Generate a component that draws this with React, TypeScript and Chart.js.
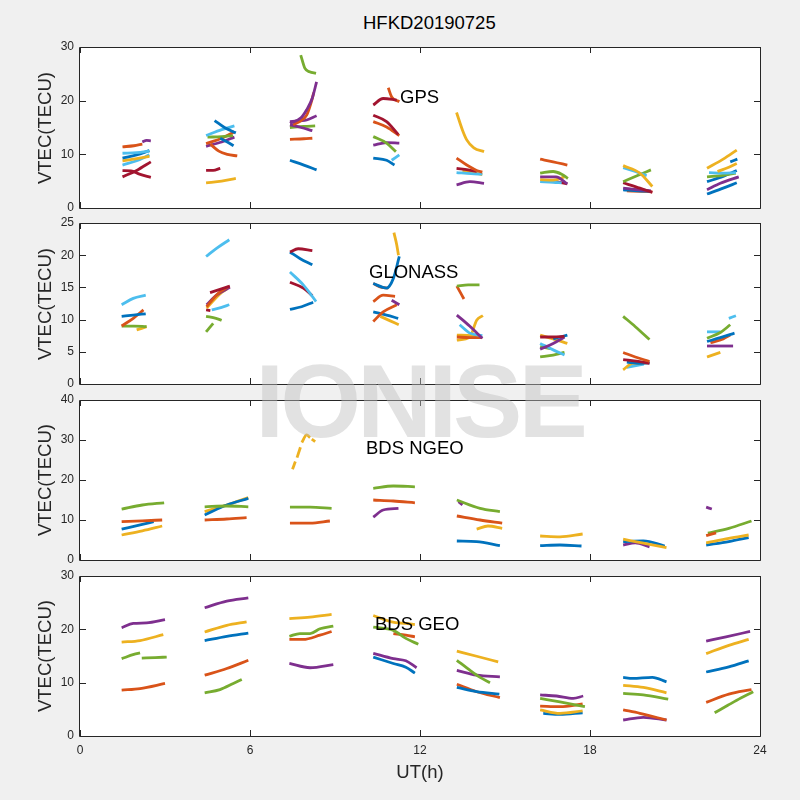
import React, { useEffect, useRef } from 'react';
import { Chart, registerables } from 'chart.js';

Chart.register(...registerables);

// MATLAB default colour order (series identity index -> colour)
const PALETTE = ['#0072BD', '#D95319', '#EDB120', '#7E2F8E', '#77AC30', '#4DBEEE', '#A2142F'];

// x axis (UT hours)
const xTicks = [0, 6, 12, 18, 24];

// Each track: [satellite colour index, [[UT h, VTEC], ...]]
type Track = [number, number[][]];

const gpsTracks: Track[] = [
  [1, [[1.5, 11.4], [1.9, 11.6], [2.2, 11.9]]],
  [3, [[2.2, 12.3], [2.35, 12.6], [2.5, 12.5]]],
  [5, [[1.5, 10.2], [2.0, 10.3], [2.45, 10.6]]],
  [0, [[1.5, 9.3], [2.0, 9.9], [2.45, 10.7]]],
  [2, [[1.5, 8.8], [2.0, 9.2], [2.45, 9.6]]],
  [5, [[1.5, 8.0], [2.0, 8.8], [2.45, 9.9]]],
  [6, [[1.5, 5.8], [2.0, 7.0], [2.5, 8.6]]],
  [6, [[1.5, 6.95], [1.8, 6.9], [2.1, 6.3], [2.5, 5.7]]],

  [0, [[4.75, 16.3], [5.1, 15.0], [5.5, 14.0]]],
  [0, [[4.95, 13.0], [5.2, 12.3], [5.42, 11.6]]],
  [5, [[4.45, 13.5], [5.0, 14.6], [5.45, 15.3]]],
  [4, [[4.5, 13.2], [5.0, 13.3], [5.4, 13.5]]],
  [1, [[4.45, 12.0], [5.0, 13.0], [5.45, 14.2]]],
  [1, [[4.6, 11.9], [4.9, 10.6], [5.2, 10.0], [5.55, 9.7]]],
  [3, [[4.45, 11.5], [5.0, 12.3], [5.45, 13.2]]],
  [6, [[4.45, 7.0], [4.7, 7.0], [4.95, 7.4]]],
  [2, [[4.45, 4.7], [5.0, 5.0], [5.5, 5.5]]],

  [4, [[7.79, 28.5], [7.94, 26.0], [8.1, 25.4], [8.33, 25.1]]],
  [3, [[7.41, 15.8], [7.8, 16.8], [8.0, 18.3], [8.2, 20.5], [8.35, 23.5]]],
  [1, [[7.52, 15.5], [7.8, 16.3], [8.0, 17.3], [8.15, 19.5], [8.25, 21.5]]],
  [3, [[7.41, 16.1], [8.0, 16.4], [8.35, 17.2]]],
  [3, [[7.41, 15.5], [7.8, 15.0], [8.2, 14.4]]],
  [4, [[7.41, 15.0], [7.9, 15.2], [8.3, 15.3]]],
  [1, [[7.41, 12.8], [7.9, 12.9], [8.2, 13.0]]],
  [0, [[7.41, 8.9], [7.9, 8.0], [8.35, 7.1]]],

  [6, [[10.35, 19.2], [10.7, 20.4], [11.18, 20.1]]],
  [1, [[10.88, 22.4], [11.0, 20.7], [11.27, 19.8]]],
  [6, [[10.35, 17.3], [10.82, 16.1], [11.23, 13.7]]],
  [1, [[10.35, 16.1], [10.82, 15.1], [11.27, 13.5]]],
  [4, [[10.35, 13.3], [10.82, 12.1], [11.15, 10.5]]],
  [3, [[10.35, 11.7], [10.82, 12.2], [11.27, 12.1]]],
  [5, [[11.0, 8.9], [11.27, 9.9]]],
  [0, [[10.35, 9.3], [10.82, 8.9], [11.1, 8.0]]],

  [2, [[13.29, 17.8], [13.5, 14.5], [13.65, 12.7], [13.9, 11.2], [14.26, 10.5]]],
  [1, [[13.29, 9.3], [13.65, 8.0], [14.0, 7.0], [14.2, 6.7]]],
  [6, [[13.29, 7.4], [13.7, 7.1], [14.0, 6.8]]],
  [5, [[13.29, 6.6], [13.8, 6.4], [14.2, 6.3]]],
  [2, [[13.5, 7.0], [13.9, 6.6], [14.2, 6.2]]],
  [3, [[13.29, 4.3], [13.76, 4.9], [14.26, 4.6]]],

  [1, [[16.24, 9.1], [16.7, 8.6], [17.2, 8.0]]],
  [4, [[16.24, 6.5], [16.7, 6.8], [17.0, 6.3], [17.22, 5.5]]],
  [3, [[16.24, 5.8], [16.8, 5.8], [17.2, 4.5]]],
  [2, [[16.24, 5.3], [16.7, 5.2], [17.1, 5.8]]],
  [5, [[16.24, 4.9], [16.7, 4.8], [17.0, 4.7]]],
  [6, [[16.7, 5.0], [17.2, 4.5]]],

  [2, [[19.17, 7.9], [19.76, 6.5], [20.2, 4.0]]],
  [5, [[19.17, 7.5], [19.6, 6.8], [20.0, 6.0]]],
  [4, [[19.17, 4.9], [19.7, 6.1], [20.15, 7.1]]],
  [6, [[19.17, 4.7], [19.76, 3.7], [20.2, 2.9]]],
  [3, [[19.17, 3.7], [19.7, 3.4], [20.15, 3.2]]],
  [0, [[19.17, 3.4], [19.7, 3.2], [20.15, 3.1]]],
  [1, [[19.3, 3.2], [19.8, 3.1], [20.2, 3.0]]],

  [2, [[22.13, 7.4], [22.7, 9.1], [23.18, 10.8]]],
  [2, [[22.5, 6.8], [22.9, 7.6], [23.18, 8.3]]],
  [0, [[22.95, 8.6], [23.2, 9.1]]],
  [5, [[22.2, 6.6], [22.7, 6.5], [23.15, 6.6]]],
  [4, [[22.13, 5.8], [22.7, 6.1], [23.15, 6.5]]],
  [0, [[22.13, 4.9], [22.7, 5.9], [23.18, 7.0]]],
  [3, [[22.13, 3.4], [22.6, 4.6], [23.25, 5.8]]],
  [0, [[22.13, 2.6], [22.7, 3.7], [23.18, 4.7]]],
];

const glonassTracks: Track[] = [
  [5, [[1.47, 12.3], [1.88, 13.3], [2.32, 13.8]]],
  [0, [[1.47, 10.5], [1.88, 10.7], [2.32, 10.9]]],
  [1, [[1.47, 9.0], [1.88, 10.2], [2.24, 11.5]]],
  [4, [[1.47, 9.0], [1.9, 9.0], [2.35, 8.9]]],
  [2, [[2.0, 8.4], [2.35, 8.9]]],

  [5, [[4.45, 19.8], [4.83, 21.1], [5.27, 22.4]]],
  [6, [[4.59, 14.2], [4.94, 14.7], [5.29, 15.2]]],
  [1, [[4.47, 12.0], [4.88, 14.1], [5.23, 15.1]]],
  [3, [[4.47, 12.3], [4.82, 13.8], [5.29, 15.0]]],
  [2, [[4.47, 11.8], [4.94, 14.0], [5.2, 14.8]]],
  [6, [[4.45, 11.5], [4.6, 11.4]]],
  [5, [[4.65, 11.5], [5.0, 11.9], [5.27, 12.3]]],
  [4, [[4.45, 10.5], [4.8, 10.2], [5.0, 9.9]]],
  [4, [[4.45, 8.1], [4.7, 9.4]]],

  [6, [[7.41, 20.5], [7.7, 21.0], [8.2, 20.7]]],
  [0, [[7.41, 20.5], [7.76, 19.5], [8.2, 18.5]]],
  [5, [[7.41, 17.4], [7.88, 15.4], [8.1, 14.2], [8.33, 12.8]]],
  [6, [[7.41, 15.8], [7.88, 14.9], [8.2, 13.7]]],
  [0, [[7.41, 11.6], [7.82, 12.0], [8.23, 12.7]]],

  [2, [[11.08, 23.5], [11.18, 21.6], [11.24, 20.0]]],
  [0, [[10.35, 15.6], [10.82, 14.9], [11.06, 16.4], [11.27, 19.8]]],
  [1, [[10.35, 15.6], [10.65, 15.0], [10.88, 14.9]]],
  [1, [[10.35, 12.8], [10.7, 13.8], [11.12, 13.6]]],
  [3, [[11.0, 13.0], [11.27, 12.3]]],
  [1, [[10.35, 9.7], [10.7, 11.2], [11.18, 12.3]]],
  [0, [[10.35, 11.2], [10.82, 10.7], [11.23, 10.2]]],
  [2, [[10.6, 10.5], [10.95, 9.8], [11.25, 9.2]]],

  [4, [[13.3, 15.2], [13.7, 15.4], [14.1, 15.4]]],
  [1, [[13.3, 15.2], [13.55, 13.2]]],
  [3, [[13.3, 10.7], [13.75, 9.0], [14.2, 7.1]]],
  [5, [[13.4, 9.2], [13.76, 7.9], [14.2, 7.5]]],
  [1, [[13.3, 7.3], [13.76, 7.2], [14.2, 7.2]]],
  [2, [[13.3, 7.6], [13.8, 7.5], [14.1, 7.3]]],
  [2, [[13.3, 6.8], [13.76, 7.3], [14.0, 9.9], [14.22, 10.6]]],

  [6, [[16.24, 7.3], [16.7, 7.3], [17.1, 7.4]]],
  [0, [[16.7, 7.0], [17.2, 7.6]]],
  [3, [[16.24, 5.4], [16.7, 6.3], [17.1, 7.3]]],
  [2, [[16.24, 7.6], [16.7, 7.0], [17.2, 6.3]]],
  [5, [[16.24, 6.3], [16.7, 5.3], [17.1, 4.5]]],
  [4, [[16.24, 4.2], [16.7, 4.5], [17.1, 4.9]]],
  [4, [[16.24, 5.8], [16.6, 5.5]]],

  [4, [[19.17, 10.5], [19.6, 8.9], [20.1, 6.9]]],
  [1, [[19.17, 4.9], [19.6, 4.2], [20.1, 3.5]]],
  [6, [[19.17, 3.8], [19.7, 3.5], [20.1, 3.2]]],
  [0, [[19.3, 3.4], [19.7, 3.2], [20.1, 3.3]]],
  [2, [[19.17, 2.2], [19.5, 3.2], [20.0, 3.3]]],
  [5, [[19.3, 2.6], [19.9, 3.1]]],

  [5, [[22.9, 10.2], [23.15, 10.6]]],
  [4, [[22.13, 7.1], [22.6, 8.0], [22.95, 9.2]]],
  [5, [[22.13, 8.1], [22.6, 8.1]]],
  [0, [[22.13, 6.6], [22.6, 7.2], [23.1, 7.9]]],
  [1, [[22.25, 6.4], [22.7, 7.0], [22.95, 7.6]]],
  [3, [[22.13, 5.9], [22.6, 5.9], [23.05, 5.9]]],
  [2, [[22.13, 4.2], [22.6, 4.9]]],
];

const ngeoTracks: Track[] = [
  [4, [[1.47, 12.7], [2.2, 13.75], [2.97, 14.3]]],
  [1, [[1.47, 9.6], [2.2, 9.8], [2.9, 10.0]]],
  [0, [[1.47, 7.7], [2.2, 8.9], [2.6, 9.6]]],
  [2, [[1.47, 6.25], [2.2, 7.3], [2.9, 8.5]]],

  [4, [[4.4, 13.3], [5.18, 13.5], [5.94, 13.3]]],
  [0, [[4.4, 11.25], [5.18, 13.75], [5.94, 15.4]]],
  [2, [[4.4, 12.1], [5.18, 13.75], [5.94, 15.6]]],
  [1, [[4.4, 10.0], [5.18, 10.25], [5.88, 10.6]]],

  [4, [[7.41, 13.2], [8.12, 13.2], [8.88, 12.9]]],
  [1, [[7.41, 9.2], [8.12, 9.2], [8.82, 9.75]]],
  [2, [[7.5, 22.7], [7.6, 24.6]]],
  [2, [[7.66, 25.6], [7.78, 28.2]]],
  [2, [[7.83, 29.4], [8.0, 31.3], [8.12, 30.6]]],
  [2, [[8.18, 30.2], [8.3, 29.6]]],

  [4, [[10.35, 17.9], [11.06, 18.5], [11.82, 18.3]]],
  [1, [[10.35, 15.0], [11.06, 14.75], [11.82, 14.3]]],
  [3, [[10.35, 10.7], [10.7, 12.5], [11.24, 12.9]]],

  [4, [[13.3, 15.0], [14.12, 12.9], [14.82, 12.1]]],
  [3, [[13.36, 14.6], [13.5, 13.8]]],
  [1, [[13.3, 11.0], [14.12, 10.0], [14.9, 9.2]]],
  [2, [[14.0, 7.7], [14.4, 8.5], [14.9, 7.9]]],
  [0, [[13.3, 4.75], [14.0, 4.6], [14.82, 3.6]]],

  [2, [[16.24, 6.0], [16.94, 5.8], [17.74, 6.5]]],
  [0, [[16.24, 3.6], [16.94, 3.75], [17.7, 3.5]]],

  [2, [[19.17, 5.2], [19.88, 4.2], [20.7, 3.1]]],
  [0, [[19.17, 4.6], [19.88, 4.8], [20.64, 3.5]]],
  [3, [[19.17, 3.75], [19.6, 4.3], [20.1, 3.3]]],

  [3, [[22.1, 13.2], [22.3, 12.75]]],
  [1, [[22.1, 6.1], [22.45, 6.8]]],
  [4, [[22.16, 6.7], [22.9, 7.9], [23.7, 9.75]]],
  [2, [[22.1, 4.3], [22.9, 5.4], [23.6, 6.25]]],
  [0, [[22.1, 3.75], [22.9, 4.6], [23.6, 5.6]]],
];

const geoTracks: Track[] = [
  [3, [[1.47, 20.3], [1.88, 21.1], [2.35, 21.2], [3.0, 21.8]]],
  [2, [[1.47, 17.6], [2.12, 17.9], [2.94, 19.0]]],
  [4, [[1.47, 14.5], [1.9, 15.3], [2.12, 15.6]]],
  [4, [[2.18, 14.6], [2.65, 14.7], [3.06, 14.8]]],
  [1, [[1.47, 8.6], [2.12, 8.9], [3.0, 9.85]]],

  [3, [[4.4, 24.05], [5.18, 25.3], [5.94, 25.9]]],
  [2, [[4.4, 19.5], [5.18, 20.75], [5.88, 21.4]]],
  [0, [[4.4, 17.9], [5.18, 18.7], [5.94, 19.3]]],
  [1, [[4.4, 11.4], [5.18, 12.65], [5.94, 14.2]]],
  [4, [[4.4, 8.1], [4.94, 8.7], [5.41, 9.85], [5.71, 10.6]]],

  [2, [[7.39, 22.0], [8.12, 22.3], [8.88, 22.8]]],
  [4, [[7.39, 18.7], [7.76, 19.2], [8.12, 19.2], [8.47, 20.1], [8.94, 20.6]]],
  [1, [[7.39, 18.1], [7.88, 18.1], [8.47, 18.9], [8.88, 19.6]]],
  [3, [[7.39, 13.6], [8.12, 12.8], [8.94, 13.4]]],

  [2, [[10.35, 22.6], [11.0, 21.4], [11.5, 21.1], [11.82, 20.9]]],
  [4, [[10.35, 20.4], [11.06, 19.8], [11.5, 18.3], [11.94, 17.2]]],
  [1, [[11.06, 19.2], [11.5, 18.9], [11.82, 18.6]]],
  [3, [[10.35, 15.5], [11.06, 14.5], [11.5, 14.1], [11.88, 12.8]]],
  [0, [[10.35, 14.8], [11.06, 13.6], [11.5, 12.9], [11.82, 11.8]]],

  [2, [[13.3, 15.9], [14.0, 14.95], [14.76, 13.9]]],
  [4, [[13.3, 14.2], [13.77, 12.3], [14.12, 11.0], [14.47, 10.0]]],
  [3, [[13.3, 12.3], [14.0, 11.4], [14.82, 11.1]]],
  [0, [[13.3, 9.1], [14.0, 8.3], [14.8, 7.85]]],
  [1, [[13.3, 9.7], [14.0, 8.3], [14.82, 7.2]]],

  [3, [[16.24, 7.7], [16.82, 7.5], [17.41, 7.05], [17.76, 7.5]]],
  [4, [[16.24, 7.05], [16.94, 6.4], [17.82, 5.5]]],
  [1, [[16.24, 5.6], [16.94, 5.5], [17.74, 6.0]]],
  [2, [[16.24, 4.9], [16.94, 4.25], [17.74, 4.7]]],
  [0, [[16.35, 4.25], [16.94, 4.05], [17.74, 4.35]]],

  [0, [[19.17, 11.0], [19.5, 10.8], [20.2, 11.0], [20.7, 10.15]]],
  [2, [[19.17, 9.5], [19.88, 9.1], [20.7, 8.1]]],
  [4, [[19.17, 8.0], [19.88, 7.7], [20.76, 6.9]]],
  [1, [[19.17, 4.9], [19.76, 4.25], [20.7, 3.0]]],
  [3, [[19.17, 3.0], [19.88, 3.5], [20.7, 3.0]]],

  [3, [[22.1, 17.8], [22.8, 18.6], [23.65, 19.6]]],
  [2, [[22.1, 15.45], [22.9, 17.0], [23.6, 18.1]]],
  [0, [[22.1, 12.0], [22.9, 12.95], [23.6, 14.1]]],
  [1, [[22.1, 6.3], [22.9, 7.85], [23.7, 8.7]]],
  [4, [[22.4, 4.35], [22.88, 5.8], [23.18, 6.7], [23.76, 8.3]]],
];

// y-axis ranges [max, step] per panel
const gpsY = [30, 10];
const glonassY = [25, 5];
const ngeoY = [40, 10];
const geoY = [30, 10];

const FONT = "'Liberation Sans', Arial, Helvetica, sans-serif";
const AXIS_COLOR = '#262626';

const framePlugin = {
  id: 'frame',
  beforeDraw(chart: any) {
    const { ctx, chartArea: a } = chart;
    ctx.save();
    ctx.fillStyle = '#ffffff';
    ctx.fillRect(a.left, a.top, a.right - a.left, a.bottom - a.top);
    ctx.restore();
  },
  afterDraw(chart: any) {
    const { ctx, chartArea: a, scales } = chart;
    ctx.save();
    ctx.strokeStyle = AXIS_COLOR;
    ctx.lineWidth = 1;
    ctx.beginPath();
    ctx.rect(a.left - 0.5, a.top + 0.5, a.right - a.left + 1, a.bottom - a.top);
    const tl = 6;
    for (const v of xTicks) {
      const px = Math.round(scales.x.getPixelForValue(v)) + 0.5;
      ctx.moveTo(px, a.top);
      ctx.lineTo(px, a.top + tl);
      ctx.moveTo(px, a.bottom + 0.5);
      ctx.lineTo(px, a.bottom - tl);
    }
    for (const t of scales.y.ticks) {
      const py = Math.round(scales.y.getPixelForValue(t.value)) + 0.5;
      ctx.moveTo(a.left, py);
      ctx.lineTo(a.left + tl, py);
      ctx.moveTo(a.right, py);
      ctx.lineTo(a.right - tl, py);
    }
    ctx.stroke();
    ctx.restore();
  },
};

function Panel({ tracks, yRange, top, bottom, showX }: { tracks: Track[]; yRange: number[]; top: number; bottom: number; showX: boolean }) {
  const ref = useRef<HTMLCanvasElement>(null);
  const padT = 10;
  const padB = 10;
  const xH = showX ? 30 : 0;
  const h = bottom - top + padT + padB + xH;
  useEffect(() => {
    const chart = new Chart(ref.current as HTMLCanvasElement, {
      type: 'line',
      data: {
        datasets: tracks.map(([c, pts]) => ({
          data: pts.map(([x, y]) => ({ x, y })),
          borderColor: PALETTE[c],
          backgroundColor: PALETTE[c],
          borderWidth: 2.8,
          pointRadius: 0,
          fill: false,
          cubicInterpolationMode: 'monotone' as const,
          borderJoinStyle: 'round' as const,
        })),
      },
      options: {
        animation: false,
        responsive: false,
        maintainAspectRatio: false,
        layout: { padding: { top: padT, bottom: padB, left: 0, right: 40 } },
        plugins: { legend: { display: false }, tooltip: { enabled: false }, title: { display: false } },
        scales: {
          x: {
            type: 'linear',
            min: 0,
            max: 24,
            display: showX,
            ticks: { stepSize: 6, color: AXIS_COLOR, font: { family: FONT, size: 12 }, padding: 7, maxRotation: 0 },
            grid: { display: false, drawTicks: false },
            border: { display: false },
            afterFit: (s: any) => {
              s.height = xH;
              s.paddingLeft = 0;
              s.paddingRight = 0;
              s.paddingTop = 0;
              s.paddingBottom = 0;
            },
          },
          y: {
            type: 'linear',
            min: 0,
            max: yRange[0],
            ticks: { stepSize: yRange[1], color: AXIS_COLOR, font: { family: FONT, size: 12 }, padding: 6 },
            grid: { display: false, drawTicks: false },
            border: { display: false },
            afterFit: (s: any) => {
              s.width = 80;
              s.paddingTop = 0;
              s.paddingBottom = 0;
              s.paddingLeft = 0;
              s.paddingRight = 0;
            },
          },
        },
      },
      plugins: [framePlugin],
    } as any);
    return () => chart.destroy();
  }, []);
  return (
    <canvas
      ref={ref}
      width={800}
      height={h}
      style={{ position: 'absolute', left: 0, top: top - padT, width: 800, height: h }}
    />
  );
}

const textBase: React.CSSProperties = {
  position: 'absolute',
  fontFamily: FONT,
  color: '#000',
  whiteSpace: 'nowrap',
  lineHeight: 1,
};

function YLabel({ cy }: { cy: number }) {
  return (
    <div style={{ ...textBase, fontSize: 18.5, color: AXIS_COLOR, left: 45, top: cy, transform: 'translate(-50%, -50%) rotate(-90deg)' }}>
      VTEC(TECU)
    </div>
  );
}

function PanelLabel({ text, left, cy }: { text: string; left: number; cy: number }) {
  return <div style={{ ...textBase, fontSize: 18.5, left, top: cy - 9 }}>{text}</div>;
}

export default function App() {
  return (
    <div style={{ position: 'fixed', left: 0, top: 0, width: 800, height: 800, background: '#f0f0f0', overflow: 'hidden' }}>
      <Panel tracks={gpsTracks} yRange={gpsY} top={47} bottom={208} showX={false} />
      <Panel tracks={glonassTracks} yRange={glonassY} top={223} bottom={384} showX={false} />
      <Panel tracks={ngeoTracks} yRange={ngeoY} top={400} bottom={560} showX={false} />
      <Panel tracks={geoTracks} yRange={geoY} top={576} bottom={736} showX={true} />

      <div style={{ ...textBase, fontSize: 18.5, left: 363, top: 14 }}>HFKD20190725</div>
      <YLabel cy={127.5} />
      <YLabel cy={303.5} />
      <YLabel cy={480} />
      <YLabel cy={656} />
      <div style={{ ...textBase, fontSize: 18.5, color: AXIS_COLOR, left: 420, top: 763, transform: 'translateX(-50%)' }}>UT(h)</div>

      <PanelLabel text="GPS" left={400} cy={97} />
      <PanelLabel text="GLONASS" left={369} cy={272} />
      <PanelLabel text="BDS NGEO" left={366} cy={448} />
      <PanelLabel text="BDS GEO" left={375} cy={624} />

      <div
        style={{
          ...textBase,
          fontSize: 104,
          fontWeight: 700,
          letterSpacing: -4,
          color: 'rgba(190,190,190,0.45)',
          left: 419.5,
          top: 349,
          transform: 'translateX(-50%)',
          pointerEvents: 'none',
        }}
      >
        IONISE
      </div>
    </div>
  );
}
